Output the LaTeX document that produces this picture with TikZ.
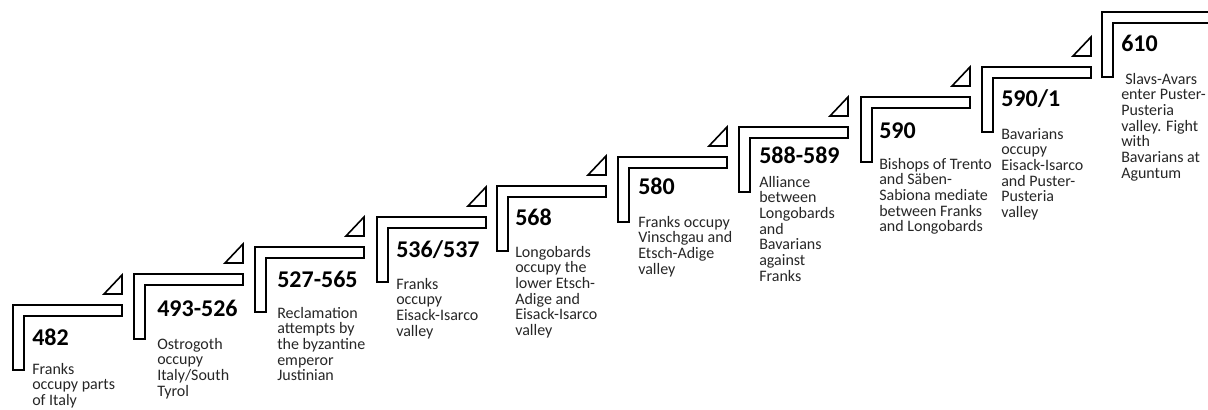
\documentclass[tikz,border=0pt]{standalone}
\usepackage{fontspec}
\setmainfont{Carlito}
\usetikzlibrary{positioning}
\definecolor{ctext}{HTML}{262626}

\begin{document}
\begin{tikzpicture}[x=0.75pt, y=-0.75pt,
  yr/.style={font=\fontsize{18}{20}\selectfont\bfseries, anchor=base west, inner sep=0pt},
  txt/.style={font=\fontsize{12}{11.75}\selectfont\setlength{\lineskiplimit}{-10pt}, align=left, anchor=north west, inner sep=0pt, text=ctext},
  bar/.pic={\draw[line width=1.2pt] (0,0) -- (109,0) -- (109,11) -- (11,11) -- (11,65) -- (0,65) -- cycle;},
  corner/.pic={\pic{bar}; \draw[line width=1.2pt] (91,-11) -- (109,-11) -- (109,-30) -- cycle;}]
\useasboundingbox (0,0) rectangle (1208,410);
% corner brackets, one step up for each date
\coordinate (s482) at (13,305);
\coordinate (s493) at (134,274);
\coordinate (s527) at (255,247);
\coordinate (s536) at (377,217);
\coordinate (s568) at (497,186);
\coordinate (s580) at (618,157);
\coordinate (s588) at (739,127);
\coordinate (s590) at (861,97);
\coordinate (s591) at (982,67);
\coordinate (s610) at (1102,12);
\pic at (s482) {corner};
\pic at (s493) {corner};
\pic at (s527) {corner};
\pic at (s536) {corner};
\pic at (s568) {corner};
\pic at (s580) {corner};
\pic at (s588) {corner};
\pic at (s590) {corner};
\pic at (s591) {corner};
\pic at (s610) {bar};
% dates
\node[yr] (d482) at (32,345) {482};
\node[yr] (d493) at (157,316) {493-526};
\node[yr] (d527) at (277,287) {527-565};
\node[yr] (d536) at (396,257) {536/537};
\node[yr] (d568) at (515,225) {568};
\node[yr] (d580) at (638,195) {580};
\node[yr] (d588) at (759,163) {588-589};
\node[yr] (d590) at (879,138) {590};
\node[yr] (d591) at (1001,107) {590/1};
\node[yr] (d610) at (1121,52) {610};
% events
\node[txt, below=12.25pt of d482.base west, anchor=north west] (e482) {\rule{0pt}{9.5pt}Franks\\ occupy parts\\ of Italy};
\node[txt, below=15.25pt of d493.base west, anchor=north west] (e493) {\rule{0pt}{9.5pt}Ostrogoth\\ occupy\\ Italy/South\\ Tyrol};
\node[txt, below=13.75pt of d527.base west, anchor=north west] (e527) {\rule{0pt}{9.5pt}Reclamation\\ attempts by\\ the byzantine\\ emperor\\ Justinian};
\node[txt, below=14.5pt of d536.base west, anchor=north west] (e536) {\rule{0pt}{9.5pt}Franks\\ occupy\\ Eisack-Isarco\\ valley};
\node[txt, below=14.5pt of d568.base west, anchor=north west] (e568) {\rule{0pt}{9.5pt}Longobards\\ occupy the\\ lower Etsch-\\ Adige and\\ Eisack-Isarco\\ valley};
\node[txt, below=14.5pt of d580.base west, anchor=north west] (e580) {\rule{0pt}{9.5pt}Franks occupy\\ Vinschgau and\\ Etsch-Adige\\ valley};
\node[txt, below=8.5pt of d588.base west, anchor=north west] (e588) {\rule{0pt}{9.5pt}Alliance\\ between\\ Longobards\\ and\\ Bavarians\\ against\\ Franks};
\node[txt, below=13.75pt of d590.base west, anchor=north west] (e590) {\rule{0pt}{9.5pt}Bishops of Trento\\ and Säben-\\ Sabiona mediate\\ between Franks\\ and Longobards};
\node[txt, below=14.5pt of d591.base west, anchor=north west] (e591) {\rule{0pt}{9.5pt}Bavarians\\ occupy\\ Eisack-Isarco\\ and Puster-\\ Pusteria\\ valley};
\node[txt, below=14.5pt of d610.base west, anchor=north west] (e610) {\rule{0pt}{9.5pt}\hspace*{3pt}Slavs-Avars\\ enter Puster-\\ Pusteria\\ valley. Fight\\ with\\ Bavarians at\\ Aguntum};
\end{tikzpicture}
\end{document}
